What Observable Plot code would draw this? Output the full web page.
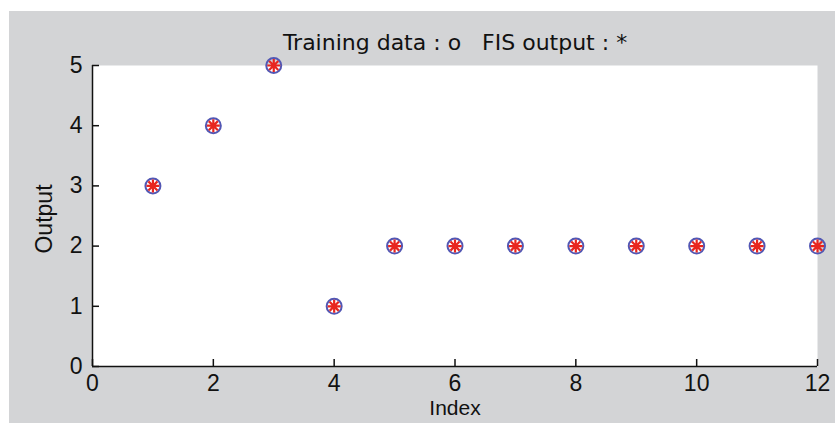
<!DOCTYPE html>
<html><head><meta charset="utf-8">
<script src="https://cdn.jsdelivr.net/npm/d3@7"></script>
<script src="https://cdn.jsdelivr.net/npm/@observablehq/plot@0.6"></script>
<style>
html,body{margin:0;padding:0;background:#fff;}
#chart{position:absolute;left:9px;top:11px;}
</style></head><body><div id="chart"></div>
<script>
const index = [1, 2, 3, 4, 5, 6, 7, 8, 9, 10, 11, 12];
const trainingData = [3, 4, 5, 1, 2, 2, 2, 2, 2, 2, 2, 2];
const fisOutput = [3, 4, 5, 1, 2, 2, 2, 2, 2, 2, 2, 2];
const xTicks = [0, 2, 4, 6, 8, 10, 12];
const yTicks = [0, 1, 2, 3, 4, 5];
const titleText = "Training data : o   FIS output : *";
const xLabel = "Index";
const yLabel = "Output";

const training = index.map((x, i) => ({x, y: trainingData[i]}));
const fis = index.map((x, i) => ({x, y: fisOutput[i]}));

const star8 = {
  draw(ctx, size) {
    const r = Math.sqrt(size / Math.PI);
    const d = r * 0.7;
    ctx.moveTo(-r, 0); ctx.lineTo(r, 0);
    ctx.moveTo(0, -r); ctx.lineTo(0, r);
    ctx.moveTo(-d, -d); ctx.lineTo(d, d);
    ctx.moveTo(-d, d); ctx.lineTo(d, -d);
  }
};

const W = 826, H = 412, mL = 83, mR = 18, mT = 54, mB = 57;
const innerW = W - mL - mR, innerH = H - mT - mB;
const tickLen = 7;
const fmt = d3.format("d");

const chart = Plot.plot({
  width: W, height: H,
  marginLeft: mL, marginRight: mR, marginTop: mT, marginBottom: mB,
  x: {domain: [0, 12]},
  y: {domain: [0, 5]},
  style: {background: "#d3d4d6", fontFamily: "'Liberation Sans', Arial, sans-serif", fontSize: "23px", color: "#111"},
  marks: [
    Plot.frame({fill: "white", stroke: "none"}),
    Plot.tickX(xTicks, {x: d => d, insetTop: innerH - tickLen, stroke: "#111", strokeWidth: 1.5}),
    Plot.tickY(yTicks, {y: d => d, insetRight: innerW - tickLen, stroke: "#111", strokeWidth: 1.5}),
    Plot.ruleX([0], {stroke: "#111", strokeWidth: 1.5}),
    Plot.ruleY([0], {stroke: "#111", strokeWidth: 1.5}),
    Plot.axisX({ticks: xTicks, tickFormat: fmt, tickSize: 0, tickPadding: 8, label: null, fontSize: 23}),
    Plot.axisY({ticks: yTicks, tickFormat: fmt, tickSize: 0, tickPadding: 10, label: null, fontSize: 23}),
    Plot.dot(training, {x: "x", y: "y", r: 7.5, stroke: "#5257b4", strokeWidth: 2, fill: "none"}),
    Plot.dot(fis, {x: "x", y: "y", r: 6.5, symbol: star8, stroke: "#e8261f", strokeWidth: 2.2}),
    Plot.text([titleText], {frameAnchor: "top", dy: -23, fontSize: 22, fontFamily: "'DejaVu Sans', sans-serif", lineAnchor: "middle", fill: "#111"}),
    Plot.text([xLabel], {frameAnchor: "bottom", dy: 48, lineAnchor: "bottom", fontSize: 21, fill: "#111"}),
    Plot.text([yLabel], {frameAnchor: "left", textAnchor: "middle", dx: -48, dy: 3, rotate: -90, fontSize: 23, fill: "#111"})
  ]
});
document.getElementById("chart").appendChild(chart);
</script></body></html>
